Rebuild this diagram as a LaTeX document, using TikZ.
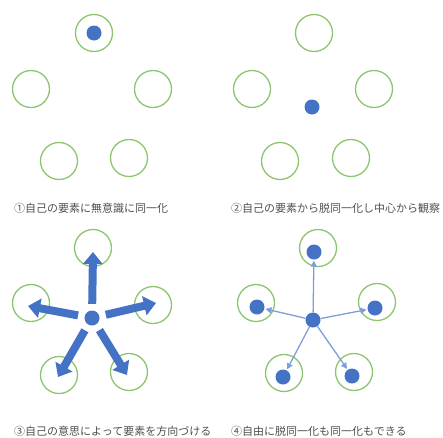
\documentclass[tikz,border=0pt]{standalone}
\usepackage{fontspec}
\setmainfont{Noto Sans CJK JP}
\usetikzlibrary{arrows.meta}
\definecolor{ringgreen}{HTML}{8CC46F}
\definecolor{dotblue}{HTML}{4472C4}
\definecolor{linkblue}{HTML}{7C9FD9}
\definecolor{captiongray}{HTML}{4F4F4F}

\begin{document}
\begin{tikzpicture}[x=1pt, y=-1pt,
  ring/.style={circle, draw=ringgreen, line width=1.3pt, minimum size=37pt, inner sep=0pt},
  dot/.style={circle, fill=dotblue, minimum size=15pt, inner sep=0pt},
  caption/.style={anchor=west, text=captiongray, font=\fontsize{11pt}{13pt}\selectfont, inner sep=0pt},
  blockarrow/.style={draw=dotblue, line width=8pt, -{Triangle[width=19pt,length=12pt]}, shorten <=6.5pt},
  link/.style={draw=linkblue, line width=1.3pt, -{Triangle[width=6pt,length=6pt]}, shorten >=1pt}]

\useasboundingbox (0,0) rectangle (443,437);

% 1
\node[ring] (r1a) at (94,33) {};
\node[ring] (r1b) at (31,89) {};
\node[ring] (r1c) at (153,89) {};
\node[ring] (r1d) at (59,161) {};
\node[ring] (r1e) at (129,158) {};
\node[dot] (d1) at (94,33) {};
\node[caption] (cap1) at (14,208) {①自己の要素に無意識に同一化};

% 2
\node[ring] (r2a) at (314,33) {};
\node[ring] (r2b) at (252,89) {};
\node[ring] (r2c) at (374,89) {};
\node[ring] (r2d) at (280,161) {};
\node[ring] (r2e) at (351,158) {};
\node[dot] (d2) at (312,107) {};
\node[caption] (cap2) at (231,208) {②自己の要素から脱同一化し中心から観察};

% 3
\node[ring] (r3a) at (93,248) {};
\node[ring] (r3b) at (31,303) {};
\node[ring] (r3c) at (153,305) {};
\node[ring] (r3d) at (59,375) {};
\node[ring] (r3e) at (129,372) {};
\node[dot] (c3) at (92,318) {};
\coordinate (t3a) at (93,252);
\coordinate (t3b) at (28,306);
\coordinate (t3c) at (156,303);
\coordinate (t3d) at (58,377);
\coordinate (t3e) at (127,375);
\foreach \t in {a,b,c,d,e}
  \draw[blockarrow] (c3) -- (t3\t);
\node[caption] (cap3) at (14,431) {③自己の意思によって要素を方向づける};

% 4
\node[ring] (r4a) at (318,248) {};
\node[ring] (r4b) at (256,303) {};
\node[ring] (r4c) at (377,302) {};
\node[ring] (r4d) at (284,373) {};
\node[ring] (r4e) at (354,372) {};
\node[dot] (d4a) at (314,252) {};
\node[dot] (d4b) at (257,307) {};
\node[dot] (d4c) at (375,308) {};
\node[dot] (d4d) at (283,377) {};
\node[dot] (d4e) at (352,376) {};
\node[dot] (c4) at (313,320) {};
\foreach \t in {a,b,c,d,e}
  \draw[link] (c4) -- (d4\t);
\node[caption] (cap4) at (231,431) {④自由に脱同一化も同一化もできる};

\end{tikzpicture}
\end{document}
